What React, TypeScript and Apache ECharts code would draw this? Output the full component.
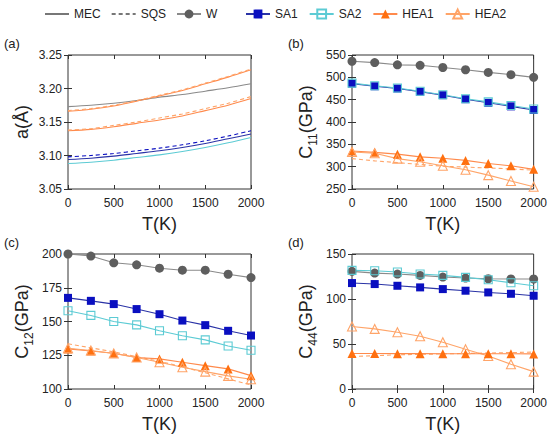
import React, { useEffect, useRef } from 'react';
import * as echarts from 'echarts';

// Temperatures (K)
const temps = [0, 250, 500, 750, 1000, 1250, 1500, 1750, 2000];

// (a) lattice parameter a (Å)
const aW = [3.173, 3.175, 3.178, 3.182, 3.187, 3.191, 3.196, 3.201, 3.207];
const aHEA2 = [3.166, 3.169, 3.174, 3.181, 3.189, 3.197, 3.207, 3.217, 3.228];
const aHEA2sqs = [3.167, 3.170, 3.175, 3.182, 3.190, 3.198, 3.208, 3.218, 3.229];
const aHEA1 = [3.137, 3.139, 3.143, 3.148, 3.153, 3.159, 3.167, 3.175, 3.185];
const aHEA1sqs = [3.138, 3.140, 3.145, 3.150, 3.156, 3.162, 3.170, 3.178, 3.188];
const aSA1 = [3.094, 3.096, 3.099, 3.103, 3.107, 3.112, 3.118, 3.125, 3.132];
const aSA1sqs = [3.098, 3.100, 3.103, 3.107, 3.111, 3.116, 3.122, 3.129, 3.137];
const aSA2 = [3.088, 3.090, 3.093, 3.097, 3.101, 3.106, 3.112, 3.119, 3.127];

// (b) C11 (GPa)
const bW = [536, 533, 528, 527, 522, 517, 511, 506, 500];
const bSA1 = [486, 480, 475, 468, 460, 451, 443, 435, 427];
const bSA2 = [487, 481, 476, 469, 461, 452, 445, 437, 429];
const bHEA1 = [335, 332, 328, 322, 319, 314, 307, 302, 294];
const bHEA1sqs = [318, 313, 309, 305, 301, 299, 297, 295, 292];
const bHEA2 = [333, 330, 318, 311, 302, 293, 281, 268, 255];

// (c) C12 (GPa)
const cW = [200, 198.5, 193.5, 192, 189.5, 188, 188, 185, 182.5];
const cSA1 = [167.5, 165.3, 162.9, 159.2, 155.4, 150.7, 147.3, 143.1, 139.6];
const cSA2 = [158, 154.5, 150, 147.5, 143.1, 139.4, 136.4, 131.9, 128.7];
const cHEA1 = [129.7, 128.2, 126.5, 123.3, 122.3, 119.8, 117.3, 114.9, 109.9];
const cHEA2 = [130.2, 128.5, 126.3, 123.3, 119.8, 116.1, 112.9, 109.7, 107.2];
const cHEA2sqs = [133.5, 130.5, 127.5, 124, 120.5, 116.5, 112, 107.5, 103];

// (d) C44 (GPa)
const dW = [130.7, 128.8, 127.7, 126.2, 124.4, 123.3, 122.5, 122.2, 122.2];
const dSA2 = [131.8, 131.4, 130, 127.7, 126.2, 124, 121.4, 118.1, 114.7];
const dSA1 = [117.7, 116.6, 114.7, 112.9, 111, 109.2, 107.3, 105.8, 103.6];
const dHEA2 = [69.4, 66.8, 63.1, 58.6, 51.9, 44.2, 36.7, 27.5, 19.3];
const dHEA1 = [39.5, 39.4, 39.3, 39.3, 39.2, 39.2, 39.1, 39.1, 39.0];
const dHEA1sqs = [36, 37, 38, 38.5, 39, 39.5, 40, 40.5, 41];

const FONT = 'Liberation Sans, Arial, Helvetica, sans-serif';
const TXT = '#222';

const mats: Record<string, { marker: string; line: string; symbol: string; size: number; hollow: boolean }> = {
  W: { marker: '#5e5e5e', line: '#8a8a8a', symbol: 'circle', size: 9, hollow: false },
  SA1: { marker: '#0a0fc0', line: '#2a33a6', symbol: 'rect', size: 8, hollow: false },
  SA2: { marker: '#5ccbd4', line: '#5ccbd4', symbol: 'rect', size: 8, hollow: true },
  HEA1: { marker: '#ff7010', line: '#ff8a4c', symbol: 'triangle', size: 9, hollow: false },
  HEA2: { marker: '#ffa468', line: '#ffa468', symbol: 'triangle', size: 9, hollow: true },
};

function mk(name: string, panel: number, vals: number[], mat: string, markers: boolean, dashed: boolean, smooth: boolean) {
  const m = mats[mat];
  return {
    type: 'line',
    name,
    xAxisIndex: panel * 2,
    yAxisIndex: panel * 2,
    data: temps.map((t, i) => [t, vals[i]]),
    symbol: markers ? m.symbol : 'none',
    showSymbol: markers,
    symbolSize: m.size,
    smooth: smooth ? 0.3 : false,
    z: markers ? 4 : dashed ? 3 : 2,
    lineStyle: { color: dashed ? m.marker : m.line, width: 1.1, type: dashed ? [4, 3] : 'solid' },
    itemStyle: m.hollow
      ? { color: 'rgba(255,255,255,0)', borderColor: m.marker, borderWidth: 1.1 }
      : { color: m.marker, borderWidth: 0 },
    emphasis: { disabled: true },
  };
}

const grids = [
  { left: 68, top: 55, width: 183, height: 134 },
  { left: 352, top: 55, width: 184, height: 134 },
  { left: 68, top: 254, width: 183, height: 135 },
  { left: 352, top: 254, width: 184, height: 135 },
];
const yRanges = [
  { min: 3.05, max: 3.25, interval: 0.05, dec: 2 },
  { min: 250, max: 550, interval: 50, dec: 0 },
  { min: 100, max: 200, interval: 25, dec: 0 },
  { min: 0, max: 150, interval: 50, dec: 0 },
];
const yNames = [
  '{m|a(Å)}',
  '{m|C}{s|11}{m|(GPa)}',
  '{m|C}{s|12}{m|(GPa)}',
  '{m|C}{s|44}{m|(GPa)}',
];
const panelLabels = ['(a)', '(b)', '(c)', '(d)'];
const panelLabelPos = [
  [4, 37],
  [288, 37],
  [4, 236],
  [288, 236],
];

export default function App() {
  const ref = useRef<HTMLDivElement>(null);
  useEffect(() => {
    document.body.style.margin = '0';
    if (!ref.current) return;
    const chart = echarts.init(ref.current, undefined, { renderer: 'svg' });

    const tick = { show: true, inside: true, length: 4, lineStyle: { color: '#333', width: 1 } };
    const xAxis: any[] = [];
    const yAxis: any[] = [];
    grids.forEach((g, i) => {
      xAxis.push({
        type: 'value', gridIndex: i, min: 0, max: 2000, interval: 500, position: 'bottom',
        name: 'T(K)', nameLocation: 'middle', nameGap: 26,
        nameTextStyle: { fontSize: 18, color: TXT, fontFamily: FONT },
        axisLine: { show: false }, axisTick: tick, splitLine: { show: false },
        axisLabel: { fontSize: 12, color: TXT, fontFamily: FONT, margin: 8, formatter: (v: number) => String(v) },
      });
      xAxis.push({
        type: 'value', gridIndex: i, min: 0, max: 2000, interval: 500, position: 'top',
        axisLine: { show: false }, axisTick: tick, splitLine: { show: false }, axisLabel: { show: false },
      });
      const r = yRanges[i];
      yAxis.push({
        type: 'value', gridIndex: i, min: r.min, max: r.max, interval: r.interval, position: 'left',
        name: yNames[i], nameLocation: 'middle', nameGap: 33,
        nameTextStyle: {
          color: TXT, fontFamily: FONT,
          rich: {
            m: { fontSize: 18, color: TXT, fontFamily: FONT, verticalAlign: 'bottom', padding: [0, 0, 4, 0] },
            s: { fontSize: 12, color: TXT, fontFamily: FONT, verticalAlign: 'bottom' },
          },
        },
        axisLine: { show: false }, axisTick: tick, splitLine: { show: false },
        axisLabel: { fontSize: 12, color: TXT, fontFamily: FONT, margin: 6, formatter: (v: number) => v.toFixed(r.dec) },
      });
      yAxis.push({
        type: 'value', gridIndex: i, min: r.min, max: r.max, interval: r.interval, position: 'right',
        axisLine: { show: false }, axisTick: tick, splitLine: { show: false }, axisLabel: { show: false },
      });
    });

    const series: any[] = [
      // legend entries for line styles
      { type: 'line', name: 'MEC', data: [], xAxisIndex: 0, yAxisIndex: 0, symbol: 'none', lineStyle: { color: '#777', width: 1.1 }, itemStyle: { color: 'rgba(0,0,0,0)', borderWidth: 0 } },
      { type: 'line', name: 'SQS', data: [], xAxisIndex: 0, yAxisIndex: 0, symbol: 'none', lineStyle: { color: '#777', width: 1.1, type: [4, 3] }, itemStyle: { color: 'rgba(0,0,0,0)', borderWidth: 0 } },
      // (b)
      mk('W', 1, bW, 'W', true, false, false),
      mk('SA1', 1, bSA1, 'SA1', true, false, false),
      mk('SA2', 1, bSA2, 'SA2', true, false, false),
      mk('HEA1', 1, bHEA1, 'HEA1', true, false, false),
      mk('HEA2', 1, bHEA2, 'HEA2', true, false, false),
      mk('HEA1 SQS', 1, bHEA1sqs, 'HEA2', false, true, false),
      // (a)
      mk('W a', 0, aW, 'W', false, false, true),
      mk('HEA2 a', 0, aHEA2, 'HEA1', false, false, true),
      mk('HEA2 SQS a', 0, aHEA2sqs, 'HEA2', false, true, true),
      mk('HEA1 a', 0, aHEA1, 'HEA1', false, false, true),
      mk('HEA1 SQS a', 0, aHEA1sqs, 'HEA2', false, true, true),
      mk('SA1 a', 0, aSA1, 'SA1', false, false, true),
      mk('SA1 SQS a', 0, aSA1sqs, 'SA1', false, true, true),
      mk('SA2 a', 0, aSA2, 'SA2', false, false, true),
      // (c)
      mk('W', 2, cW, 'W', true, false, false),
      mk('SA1', 2, cSA1, 'SA1', true, false, false),
      mk('SA2', 2, cSA2, 'SA2', true, false, false),
      mk('HEA1', 2, cHEA1, 'HEA1', true, false, false),
      mk('HEA2', 2, cHEA2, 'HEA2', true, false, false),
      mk('HEA2 SQS c', 2, cHEA2sqs, 'HEA2', false, true, false),
      // (d)
      mk('W', 3, dW, 'W', true, false, false),
      mk('SA2', 3, dSA2, 'SA2', true, false, false),
      mk('SA1', 3, dSA1, 'SA1', true, false, false),
      mk('HEA2', 3, dHEA2, 'HEA2', true, false, false),
      mk('HEA1', 3, dHEA1, 'HEA1', true, false, false),
      mk('HEA1 SQS d', 3, dHEA1sqs, 'HEA2', false, true, false),
    ];

    const legendCommon = {
      top: 3, itemWidth: 24, itemHeight: 11, itemGap: 10,
      textStyle: { fontSize: 12, color: TXT, fontFamily: FONT },
      selectedMode: false,
    };

    chart.setOption({
      animation: false,
      backgroundColor: '#fff',
      grid: grids.map((g) => ({ ...g, show: true, borderColor: '#333', borderWidth: 1, backgroundColor: 'transparent' })),
      xAxis,
      yAxis,
      legend: [
        { ...legendCommon, left: 39, data: ['MEC', 'SQS', 'W'] },
        { ...legendCommon, left: 240, itemGap: 11, data: ['SA1', 'SA2', 'HEA1', 'HEA2'] },
      ],
      graphic: panelLabels.map((t, i) => ({
        type: 'text', left: panelLabelPos[i][0], top: panelLabelPos[i][1],
        style: { text: t, fontSize: 13, fill: TXT, fontFamily: FONT },
      })),
      series,
    });
    return () => chart.dispose();
  }, []);
  return <div ref={ref} style={{ width: 550, height: 436 }} />;
}
